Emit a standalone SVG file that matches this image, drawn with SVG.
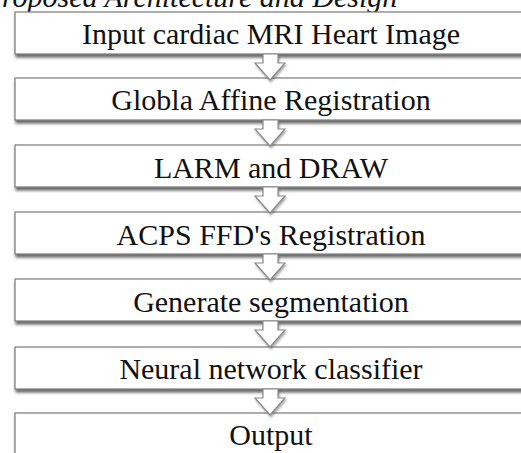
<svg xmlns="http://www.w3.org/2000/svg" xmlns:xlink="http://www.w3.org/1999/xlink" width="521" height="453" viewBox="0 0 521 453">
  <style>
    .box { fill: #ffffff; stroke: #7a7a7a; stroke-width: 1.2; filter: url(#sh); }
    .lbl { font-family: "Liberation Serif", "Times New Roman", serif; font-size: 30px; fill: #111111; text-anchor: middle; }
    .title { font-family: "Liberation Serif", "Times New Roman", serif; font-size: 30px; font-style: italic; fill: #111111; }
    .arr { fill: #ffffff; stroke: #8a8a8a; stroke-width: 1.2; stroke-linejoin: miter; filter: url(#sh2); }
  </style>
  <defs>
    <filter id="sh" x="-5%" y="-20%" width="110%" height="160%">
      <feDropShadow dx="1" dy="3" stdDeviation="1.5" flood-color="#333333" flood-opacity="0.75"/>
    </filter>
    <filter id="sh2" x="-30%" y="-30%" width="160%" height="160%">
      <feDropShadow dx="1" dy="2" stdDeviation="1.2" flood-color="#555555" flood-opacity="0.5"/>
    </filter>
    <path id="arrow" d="M263,0 L278,0 L278,9 L285,9 L270,26 L255,9 L263,9 Z"/>
  </defs>
  <rect width="521" height="453" fill="#ffffff"/>
  <text class="title" x="2" y="7">roposed Architecture and Design</text>

  <g id="n1"><rect class="box" x="15" y="12" width="520" height="42"/><text class="lbl" x="271" y="44">Input cardiac MRI Heart Image</text></g>
  <g id="n2"><rect class="box" x="15" y="78" width="520" height="42"/><text class="lbl" x="271" y="110">Globla Affine Registration</text></g>
  <g id="n3"><rect class="box" x="15" y="145" width="520" height="42"/><text class="lbl" x="271" y="178">LARM and DRAW</text></g>
  <g id="n4"><rect class="box" x="15" y="212" width="520" height="42"/><text class="lbl" x="271" y="245">ACPS FFD's Registration</text></g>
  <g id="n5"><rect class="box" x="15" y="279" width="520" height="42"/><text class="lbl" x="271" y="312">Generate segmentation</text></g>
  <g id="n6"><rect class="box" x="15" y="347" width="520" height="42"/><text class="lbl" x="271" y="379">Neural network classifier</text></g>
  <g id="n7"><rect class="box" x="15" y="413" width="520" height="60"/><text class="lbl" x="271" y="445">Output</text></g>

  <g id="connectors">
    <use xlink:href="#arrow" class="arr" transform="translate(0,54)"/>
    <use xlink:href="#arrow" class="arr" transform="translate(0,120)"/>
    <use xlink:href="#arrow" class="arr" transform="translate(0,187)"/>
    <use xlink:href="#arrow" class="arr" transform="translate(0,254)"/>
    <use xlink:href="#arrow" class="arr" transform="translate(0,321)"/>
    <use xlink:href="#arrow" class="arr" transform="translate(0,389)"/>
  </g>
</svg>
